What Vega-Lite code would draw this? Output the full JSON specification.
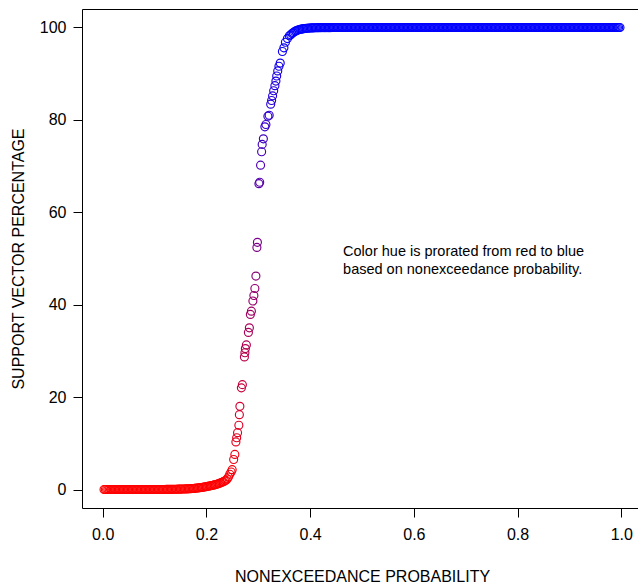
{
"$schema": "https://vega.github.io/schema/vega-lite/v6.json",
"width": 560,
"height": 499,
"autosize": {"type": "none"},
"padding": {"left": 82, "top": 9, "right": 0, "bottom": 80},
"background": "white",
"config": {
  "view": {"stroke": "black", "strokeWidth": 1},
  "font": "Liberation Sans",
  "axis": {"domain": false, "grid": false, "tickColor": "black", "tickSize": 9, "tickWidth": 1, "labelColor": "black", "titleColor": "black", "labelFontSize": 16, "titleFontSize": 16, "titleFontWeight": "normal", "labelFont": "Liberation Sans", "titleFont": "Liberation Sans"}
},
"layer": [
{
"data": {"values": [
{"p":0.0025,"s":0},{"p":0.005,"s":0},{"p":0.0075,"s":0},
{"p":0.01,"s":0},{"p":0.0125,"s":0},{"p":0.015,"s":0},{"p":0.0175,"s":0},
{"p":0.02,"s":0},{"p":0.0225,"s":0},{"p":0.025,"s":0},{"p":0.0275,"s":0},
{"p":0.03,"s":0},{"p":0.0325,"s":0},{"p":0.035,"s":0},{"p":0.0375,"s":0},
{"p":0.04,"s":0},{"p":0.0425,"s":0},{"p":0.045,"s":0},{"p":0.0475,"s":0},
{"p":0.05,"s":0},{"p":0.0525,"s":0},{"p":0.055,"s":0},{"p":0.0575,"s":0},
{"p":0.06,"s":0},{"p":0.0625,"s":0},{"p":0.065,"s":0},{"p":0.0675,"s":0},
{"p":0.07,"s":0},{"p":0.0725,"s":0},{"p":0.075,"s":0},{"p":0.0775,"s":0},
{"p":0.08,"s":0},{"p":0.0825,"s":0},{"p":0.085,"s":0},{"p":0.0875,"s":0},
{"p":0.09,"s":0},{"p":0.0925,"s":0},{"p":0.095,"s":0},{"p":0.0975,"s":0},
{"p":0.1,"s":0},{"p":0.1025,"s":0},{"p":0.105,"s":0},{"p":0.1075,"s":0},
{"p":0.11,"s":0},{"p":0.1125,"s":0},{"p":0.115,"s":0},{"p":0.1175,"s":0},
{"p":0.12,"s":0},{"p":0.1225,"s":0.02},{"p":0.125,"s":0.02},{"p":0.1275,"s":0.03},
{"p":0.13,"s":0.03},{"p":0.1325,"s":0.04},{"p":0.135,"s":0.04},{"p":0.1375,"s":0.05},
{"p":0.14,"s":0.05},{"p":0.1425,"s":0.06},{"p":0.145,"s":0.07},{"p":0.1475,"s":0.08},
{"p":0.15,"s":0.09},{"p":0.1525,"s":0.1},{"p":0.155,"s":0.11},{"p":0.1575,"s":0.12},
{"p":0.16,"s":0.13},{"p":0.1625,"s":0.14},{"p":0.165,"s":0.15},{"p":0.1675,"s":0.17},
{"p":0.17,"s":0.19},{"p":0.1725,"s":0.21},{"p":0.175,"s":0.23},{"p":0.1775,"s":0.26},
{"p":0.18,"s":0.29},{"p":0.1825,"s":0.32},{"p":0.185,"s":0.36},{"p":0.1875,"s":0.4},
{"p":0.19,"s":0.44},{"p":0.1925,"s":0.48},{"p":0.195,"s":0.53},{"p":0.1975,"s":0.58},
{"p":0.2,"s":0.63},{"p":0.2025,"s":0.68},{"p":0.205,"s":0.74},{"p":0.2075,"s":0.8},
{"p":0.21,"s":0.86},{"p":0.2125,"s":0.93},{"p":0.215,"s":1.0},{"p":0.2175,"s":1.07},
{"p":0.22,"s":1.15},{"p":0.2225,"s":1.24},{"p":0.225,"s":1.34},{"p":0.2275,"s":1.45},
{"p":0.23,"s":1.57},{"p":0.2325,"s":1.7},{"p":0.235,"s":1.85},{"p":0.2375,"s":2.0},
{"p":0.24,"s":2.3},{"p":0.2425,"s":2.7},
{"p":0.245,"s":3.3},{"p":0.2475,"s":3.8},{"p":0.2496,"s":4.3},{"p":0.2525,"s":6.5},{"p":0.2548,"s":7.6},{"p":0.2568,"s":10.3},{"p":0.2583,"s":11.2},{"p":0.26,"s":12.3},{"p":0.2625,"s":13.9},{"p":0.2635,"s":16.2},{"p":0.2645,"s":18.0},{"p":0.2674,"s":22.0},{"p":0.2693,"s":22.7},{"p":0.2732,"s":28.7},{"p":0.2742,"s":29.6},{"p":0.2751,"s":30.5},{"p":0.277,"s":31.3},{"p":0.2809,"s":34.0},{"p":0.2828,"s":35.0},{"p":0.2847,"s":37.9},{"p":0.2867,"s":38.6},{"p":0.2896,"s":40.8},{"p":0.2915,"s":42.0},{"p":0.2934,"s":43.5},{"p":0.2954,"s":46.2},{"p":0.2973,"s":52.4},{"p":0.2983,"s":53.5},{"p":0.3012,"s":66.2},{"p":0.3027,"s":66.5},{"p":0.3044,"s":70.2},{"p":0.3064,"s":73.1},{"p":0.3075,"s":74.7},{"p":0.3098,"s":75.9},{"p":0.3127,"s":78.5},{"p":0.3147,"s":79.0},{"p":0.3185,"s":80.8},{"p":0.321,"s":81.0},{"p":0.3239,"s":83.4},{"p":0.3257,"s":84.2},{"p":0.3276,"s":85.2},{"p":0.3297,"s":86.3},{"p":0.332,"s":87.4},{"p":0.334,"s":88.4},{"p":0.3355,"s":89.5},{"p":0.3375,"s":90.6},{"p":0.3398,"s":91.6},{"p":0.3423,"s":92.3},{"p":0.3465,"s":94.8},{"p":0.3494,"s":95.6},{"p":0.3523,"s":96.8},{"p":0.3562,"s":97.6},{"p":0.36,"s":98.2},
{"p":0.3625,"s":98.4},{"p":0.365,"s":98.7},{"p":0.3675,"s":98.9},
{"p":0.37,"s":99.1},{"p":0.3725,"s":99.25},{"p":0.375,"s":99.38},{"p":0.3775,"s":99.48},
{"p":0.38,"s":99.56},{"p":0.3825,"s":99.63},{"p":0.385,"s":99.69},{"p":0.3875,"s":99.74},
{"p":0.39,"s":99.78},{"p":0.3925,"s":99.81},{"p":0.395,"s":99.84},{"p":0.3975,"s":99.87},
{"p":0.4,"s":99.89},{"p":0.4025,"s":99.91},{"p":0.405,"s":99.92},{"p":0.4075,"s":99.93},
{"p":0.41,"s":99.94},{"p":0.4125,"s":99.95},{"p":0.415,"s":99.96},{"p":0.4175,"s":99.965},
{"p":0.42,"s":99.97},{"p":0.4225,"s":99.98},{"p":0.425,"s":99.98},{"p":0.4275,"s":99.98},
{"p":0.43,"s":99.98},{"p":0.4325,"s":99.98},{"p":0.435,"s":99.98},{"p":0.4375,"s":99.98},
{"p":0.44,"s":99.98},{"p":0.4425,"s":99.99},{"p":0.445,"s":99.99},{"p":0.4475,"s":99.99},
{"p":0.45,"s":99.99},{"p":0.4525,"s":99.99},{"p":0.455,"s":99.99},{"p":0.4575,"s":99.99},
{"p":0.46,"s":99.99},{"p":0.4625,"s":99.99},{"p":0.465,"s":99.99},{"p":0.4675,"s":99.99},
{"p":0.47,"s":99.99},{"p":0.4725,"s":100},{"p":0.475,"s":100},{"p":0.4775,"s":100},
{"p":0.48,"s":100},{"p":0.4825,"s":100},{"p":0.485,"s":100},{"p":0.4875,"s":100},
{"p":0.49,"s":100},{"p":0.4925,"s":100},{"p":0.495,"s":100},{"p":0.4975,"s":100},
{"p":0.5,"s":100},{"p":0.5025,"s":100},{"p":0.505,"s":100},{"p":0.5075,"s":100},
{"p":0.51,"s":100},{"p":0.5125,"s":100},{"p":0.515,"s":100},{"p":0.5175,"s":100},
{"p":0.52,"s":100},{"p":0.5225,"s":100},{"p":0.525,"s":100},{"p":0.5275,"s":100},
{"p":0.53,"s":100},{"p":0.5325,"s":100},{"p":0.535,"s":100},{"p":0.5375,"s":100},
{"p":0.54,"s":100},{"p":0.5425,"s":100},{"p":0.545,"s":100},{"p":0.5475,"s":100},
{"p":0.55,"s":100},{"p":0.5525,"s":100},{"p":0.555,"s":100},{"p":0.5575,"s":100},
{"p":0.56,"s":100},{"p":0.5625,"s":100},{"p":0.565,"s":100},{"p":0.5675,"s":100},
{"p":0.57,"s":100},{"p":0.5725,"s":100},{"p":0.575,"s":100},{"p":0.5775,"s":100},
{"p":0.58,"s":100},{"p":0.5825,"s":100},{"p":0.585,"s":100},{"p":0.5875,"s":100},
{"p":0.59,"s":100},{"p":0.5925,"s":100},{"p":0.595,"s":100},{"p":0.5975,"s":100},
{"p":0.6,"s":100},{"p":0.6025,"s":100},{"p":0.605,"s":100},{"p":0.6075,"s":100},
{"p":0.61,"s":100},{"p":0.6125,"s":100},{"p":0.615,"s":100},{"p":0.6175,"s":100},
{"p":0.62,"s":100},{"p":0.6225,"s":100},{"p":0.625,"s":100},{"p":0.6275,"s":100},
{"p":0.63,"s":100},{"p":0.6325,"s":100},{"p":0.635,"s":100},{"p":0.6375,"s":100},
{"p":0.64,"s":100},{"p":0.6425,"s":100},{"p":0.645,"s":100},{"p":0.6475,"s":100},
{"p":0.65,"s":100},{"p":0.6525,"s":100},{"p":0.655,"s":100},{"p":0.6575,"s":100},
{"p":0.66,"s":100},{"p":0.6625,"s":100},{"p":0.665,"s":100},{"p":0.6675,"s":100},
{"p":0.67,"s":100},{"p":0.6725,"s":100},{"p":0.675,"s":100},{"p":0.6775,"s":100},
{"p":0.68,"s":100},{"p":0.6825,"s":100},{"p":0.685,"s":100},{"p":0.6875,"s":100},
{"p":0.69,"s":100},{"p":0.6925,"s":100},{"p":0.695,"s":100},{"p":0.6975,"s":100},
{"p":0.7,"s":100},{"p":0.7025,"s":100},{"p":0.705,"s":100},{"p":0.7075,"s":100},
{"p":0.71,"s":100},{"p":0.7125,"s":100},{"p":0.715,"s":100},{"p":0.7175,"s":100},
{"p":0.72,"s":100},{"p":0.7225,"s":100},{"p":0.725,"s":100},{"p":0.7275,"s":100},
{"p":0.73,"s":100},{"p":0.7325,"s":100},{"p":0.735,"s":100},{"p":0.7375,"s":100},
{"p":0.74,"s":100},{"p":0.7425,"s":100},{"p":0.745,"s":100},{"p":0.7475,"s":100},
{"p":0.75,"s":100},{"p":0.7525,"s":100},{"p":0.755,"s":100},{"p":0.7575,"s":100},
{"p":0.76,"s":100},{"p":0.7625,"s":100},{"p":0.765,"s":100},{"p":0.7675,"s":100},
{"p":0.77,"s":100},{"p":0.7725,"s":100},{"p":0.775,"s":100},{"p":0.7775,"s":100},
{"p":0.78,"s":100},{"p":0.7825,"s":100},{"p":0.785,"s":100},{"p":0.7875,"s":100},
{"p":0.79,"s":100},{"p":0.7925,"s":100},{"p":0.795,"s":100},{"p":0.7975,"s":100},
{"p":0.8,"s":100},{"p":0.8025,"s":100},{"p":0.805,"s":100},{"p":0.8075,"s":100},
{"p":0.81,"s":100},{"p":0.8125,"s":100},{"p":0.815,"s":100},{"p":0.8175,"s":100},
{"p":0.82,"s":100},{"p":0.8225,"s":100},{"p":0.825,"s":100},{"p":0.8275,"s":100},
{"p":0.83,"s":100},{"p":0.8325,"s":100},{"p":0.835,"s":100},{"p":0.8375,"s":100},
{"p":0.84,"s":100},{"p":0.8425,"s":100},{"p":0.845,"s":100},{"p":0.8475,"s":100},
{"p":0.85,"s":100},{"p":0.8525,"s":100},{"p":0.855,"s":100},{"p":0.8575,"s":100},
{"p":0.86,"s":100},{"p":0.8625,"s":100},{"p":0.865,"s":100},{"p":0.8675,"s":100},
{"p":0.87,"s":100},{"p":0.8725,"s":100},{"p":0.875,"s":100},{"p":0.8775,"s":100},
{"p":0.88,"s":100},{"p":0.8825,"s":100},{"p":0.885,"s":100},{"p":0.8875,"s":100},
{"p":0.89,"s":100},{"p":0.8925,"s":100},{"p":0.895,"s":100},{"p":0.8975,"s":100},
{"p":0.9,"s":100},{"p":0.9025,"s":100},{"p":0.905,"s":100},{"p":0.9075,"s":100},
{"p":0.91,"s":100},{"p":0.9125,"s":100},{"p":0.915,"s":100},{"p":0.9175,"s":100},
{"p":0.92,"s":100},{"p":0.9225,"s":100},{"p":0.925,"s":100},{"p":0.9275,"s":100},
{"p":0.93,"s":100},{"p":0.9325,"s":100},{"p":0.935,"s":100},{"p":0.9375,"s":100},
{"p":0.94,"s":100},{"p":0.9425,"s":100},{"p":0.945,"s":100},{"p":0.9475,"s":100},
{"p":0.95,"s":100},{"p":0.9525,"s":100},{"p":0.955,"s":100},{"p":0.9575,"s":100},
{"p":0.96,"s":100},{"p":0.9625,"s":100},{"p":0.965,"s":100},{"p":0.9675,"s":100},
{"p":0.97,"s":100},{"p":0.9725,"s":100},{"p":0.975,"s":100},{"p":0.9775,"s":100},
{"p":0.98,"s":100},{"p":0.9825,"s":100},{"p":0.985,"s":100},{"p":0.9875,"s":100},
{"p":0.99,"s":100},{"p":0.9925,"s":100},{"p":0.995,"s":100},{"p":0.9975,"s":100}
]},
"mark": {"type": "point", "shape": "circle", "filled": false, "size": 64, "strokeWidth": 1.15, "opacity": 1},
"encoding": {
  "x": {"field": "p", "type": "quantitative", "scale": {"domain": [-0.04, 1.04], "nice": false, "zero": false},
        "axis": {"values": [0, 0.2, 0.4, 0.6, 0.8, 1], "format": ".1f", "labelPadding": 9, "title": "NONEXCEEDANCE PROBABILITY", "titlePadding": 26}},
  "y": {"field": "s", "type": "quantitative", "scale": {"domain": [-4, 104], "nice": false, "zero": false},
        "axis": {"values": [0, 20, 40, 60, 80, 100], "labelPadding": 7, "title": "SUPPORT VECTOR PERCENTAGE", "titlePadding": 13}},
  "color": {"field": "s", "type": "quantitative", "scale": {"domain": [0, 100], "range": ["#ff0000", "#0000ff"], "interpolate": "rgb"}, "legend": null}
}
},
{
"data": {"values": [{}]},
"mark": {"type": "text", "align": "left", "baseline": "middle", "fontSize": 14.5, "lineHeight": 18, "font": "Liberation Sans", "color": "black"},
"encoding": {
  "x": {"datum": 0.4635, "type": "quantitative"},
  "y": {"datum": 51.4, "type": "quantitative"},
  "text": {"value": ["Color hue is prorated from red to blue", "based on nonexceedance probability."]}
}
}
]
}
